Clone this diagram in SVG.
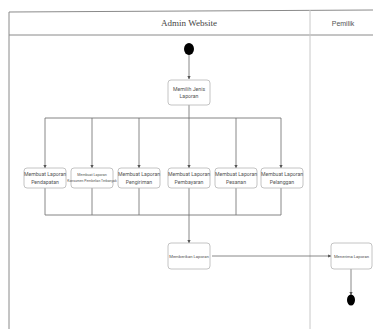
<svg xmlns="http://www.w3.org/2000/svg" width="373" height="329" viewBox="0 0 373 329">
<style>
.frame{fill:none;stroke:#8a8a8a;stroke-width:1}
.lane{fill:none;stroke:#c8c8c8;stroke-width:1}
.act rect{fill:#fff;stroke:#b5b5b5;stroke-width:0.8}
.act text{font-family:Roboto,"Liberation Sans",sans-serif;font-size:5.2px;fill:#555;text-anchor:middle}
.act .sm{font-size:4.2px}
.conn line{stroke:#6a6a6a;stroke-width:0.8}
.conn .bar{stroke:#777;stroke-width:0.9}
.hdr{font-family:"Liberation Serif",serif;font-size:9px;fill:#444;text-anchor:middle}
.hdr2{font-family:"Liberation Sans",sans-serif;font-size:7px;fill:#555;text-anchor:middle}
</style>
<defs>
<marker id="ah" viewBox="0 0 6 6" refX="5.5" refY="3" markerWidth="4" markerHeight="4" orient="auto">
<path d="M0,0 L6,3 L0,6 Z" fill="#555"/>
</marker>
</defs>
<rect width="373" height="329" fill="#fff"/>
<g id="swimlanes">
<line class="frame" x1="9" y1="12" x2="373" y2="10"/>
<line class="frame" x1="9" y1="12" x2="9" y2="329"/>
<line class="frame" x1="9" y1="35" x2="373" y2="35"/>
<line class="lane" x1="310" y1="10" x2="310" y2="329"/>
<text class="hdr" x="189" y="26">Admin Website</text>
<text class="hdr2" x="343" y="26">Pemilik</text>
</g>
<g class="conn" id="connectors">
<line x1="189" y1="53" x2="189" y2="79" marker-end="url(#ah)"/>
<line x1="189" y1="105" x2="189" y2="118"/>
<line class="bar" x1="45" y1="118" x2="281" y2="118"/>
<line x1="45" y1="118" x2="45" y2="168" marker-end="url(#ah)"/>
<line x1="92" y1="118" x2="92" y2="168" marker-end="url(#ah)"/>
<line x1="139" y1="118" x2="139" y2="168" marker-end="url(#ah)"/>
<line x1="189" y1="118" x2="189" y2="168" marker-end="url(#ah)"/>
<line x1="236" y1="118" x2="236" y2="168" marker-end="url(#ah)"/>
<line x1="281" y1="118" x2="281" y2="168" marker-end="url(#ah)"/>
<line x1="45" y1="188" x2="45" y2="215"/>
<line x1="92" y1="188" x2="92" y2="215"/>
<line x1="139" y1="188" x2="139" y2="215"/>
<line x1="189" y1="188" x2="189" y2="215"/>
<line x1="236" y1="188" x2="236" y2="215"/>
<line x1="281" y1="188" x2="281" y2="215"/>
<line class="bar" x1="45" y1="215" x2="281" y2="215"/>
<line x1="189" y1="215" x2="189" y2="243" marker-end="url(#ah)"/>
<line x1="212" y1="256" x2="331" y2="256" marker-end="url(#ah)"/>
<line x1="351" y1="269" x2="351" y2="295" marker-end="url(#ah)"/>
</g>
<g id="start"><ellipse cx="189" cy="49" rx="5" ry="6" fill="#000"/></g>
<g id="end"><ellipse cx="351" cy="300" rx="4" ry="5.5" fill="#000"/></g>
<g class="act" id="a-pilih"><rect x="168" y="80" width="42" height="25" rx="3"/><text x="189" y="91">Memilih Jenis</text><text x="189" y="98">Laporan</text></g>
<g class="act" id="a-pendapatan"><rect x="24" y="168" width="42" height="20" rx="3"/><text x="45" y="176">Membuat Laporan</text><text x="45" y="184">Pendapatan</text></g>
<g class="act" id="a-konsumen"><rect x="71" y="168" width="42" height="20" rx="3"/><text x="92" y="176" style="font-size:3.6px">Membuat Laporan</text><text x="92" y="182" style="font-size:3.4px">Konsumen Pembelian Terbanyak</text></g>
<g class="act" id="a-pengiriman"><rect x="118" y="168" width="42" height="20" rx="3"/><text x="139" y="176">Membuat Laporan</text><text x="139" y="184">Pengiriman</text></g>
<g class="act" id="a-pembayaran"><rect x="168" y="168" width="42" height="20" rx="3"/><text x="189" y="176">Membuat Laporan</text><text x="189" y="184">Pembayaran</text></g>
<g class="act" id="a-pesanan"><rect x="215" y="168" width="42" height="20" rx="3"/><text x="236" y="176">Membuat Laporan</text><text x="236" y="184">Pesanan</text></g>
<g class="act" id="a-pelanggan"><rect x="261" y="168" width="42" height="20" rx="3"/><text x="282" y="176">Membuat Laporan</text><text x="282" y="184">Pelanggan</text></g>
<g class="act" id="a-memberikan"><rect x="168" y="243" width="42" height="26" rx="3"/><text class="sm" x="189" y="257.5">Memberikan Laporan</text></g>
<g class="act" id="a-menerima"><rect x="331" y="243" width="41" height="26" rx="3"/><text class="sm" x="351.5" y="257.5">Menerima Laporan</text></g>
</svg>
